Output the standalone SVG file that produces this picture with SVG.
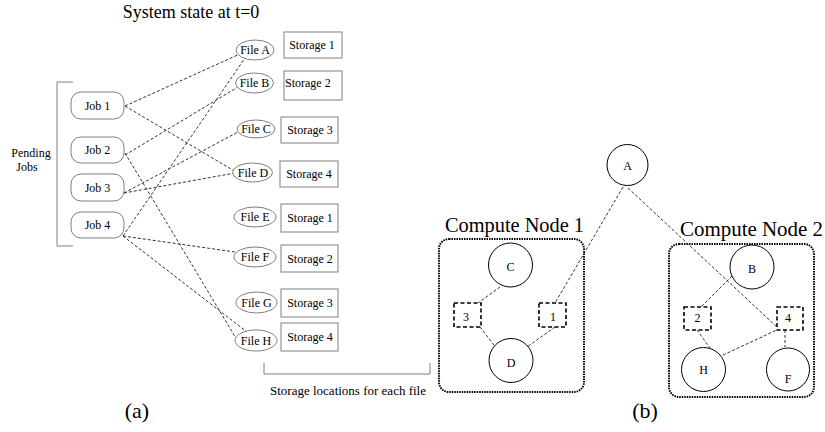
<svg xmlns="http://www.w3.org/2000/svg" width="825" height="432" viewBox="0 0 825 432">
<style>
text{font-family:"Liberation Serif","Times New Roman",serif;fill:#000}
.lbl{font-size:12px;text-anchor:middle}
.cap{font-size:13px;text-anchor:middle}
.big{font-size:20px}
.job{fill:#fff;stroke:#808080;stroke-width:1}
.file{fill:#fff;stroke:#808080;stroke-width:1}
.sto{fill:#fff;stroke:#808080;stroke-width:1}
.br{fill:none;stroke:#808080;stroke-width:1}
.dl{fill:none;stroke:#333;stroke-width:1;stroke-dasharray:3 2}
.circ{fill:#fff;stroke:#000;stroke-width:1}
.dbox{fill:#fff;stroke:#000;stroke-width:1.6;stroke-dasharray:4 2.5}
.cn{fill:none;stroke:#000;stroke-width:2;stroke-dasharray:1.5 1}
</style>

<text x="191" y="18" text-anchor="middle" style="font-size:18px">System state at t=0</text>

<g id="pending-bracket">
<path class="br" d="M73,82 H57 V246 H73"/>
<text class="lbl" x="31" y="157">Pending</text>
<text class="lbl" x="27" y="171">Jobs</text>
</g>

<g id="storage-bracket">
<path class="br" d="M264,363 V374 H430 V363"/>
<text class="cap" x="348" y="395">Storage locations for each file</text>
</g>

<g id="connectors-a">
<line class="dl" x1="125" y1="106" x2="242" y2="53"/>
<line class="dl" x1="125" y1="106" x2="236" y2="172"/>
<line class="dl" x1="125" y1="155" x2="238" y2="87"/>
<line class="dl" x1="125" y1="153" x2="237" y2="340"/>
<line class="dl" x1="124" y1="193" x2="238" y2="132"/>
<line class="dl" x1="124" y1="193" x2="235" y2="173"/>
<line class="dl" x1="123" y1="236" x2="245" y2="58"/>
<line class="dl" x1="123" y1="236" x2="235" y2="252"/>
<line class="dl" x1="123" y1="236" x2="247" y2="332"/>
</g>

<g id="job1"><rect class="job" x="71" y="92" width="53" height="27" rx="10"/><text class="lbl" x="97.5" y="110">Job 1</text></g>
<g id="job2"><rect class="job" x="71" y="137" width="53" height="26" rx="10"/><text class="lbl" x="97.5" y="154">Job 2</text></g>
<g id="job3"><rect class="job" x="71" y="174" width="53" height="27" rx="10"/><text class="lbl" x="97.5" y="192">Job 3</text></g>
<g id="job4"><rect class="job" x="71" y="212" width="53" height="26" rx="10"/><text class="lbl" x="97.5" y="229">Job 4</text></g>

<g id="fileA"><ellipse class="file" cx="255" cy="50" rx="19" ry="10"/><text class="lbl" x="255" y="54">File A</text></g>
<g id="fileB"><ellipse class="file" cx="254.5" cy="83" rx="19" ry="10"/><text class="lbl" x="254.5" y="87">File B</text></g>
<g id="fileC"><ellipse class="file" cx="256" cy="129" rx="19" ry="9"/><text class="lbl" x="256" y="133">File C</text></g>
<g id="fileD"><ellipse class="file" cx="252.5" cy="172.5" rx="20" ry="9.5"/><text class="lbl" x="253" y="177">File D</text></g>
<g id="fileE"><ellipse class="file" cx="255" cy="217" rx="21" ry="10"/><text class="lbl" x="255" y="221">File E</text></g>
<g id="fileF"><ellipse class="file" cx="255" cy="257" rx="21" ry="10"/><text class="lbl" x="255" y="261">File F</text></g>
<g id="fileG"><ellipse class="file" cx="256.5" cy="302.5" rx="20.5" ry="10.5"/><text class="lbl" x="256.5" y="306.5">File G</text></g>
<g id="fileH"><ellipse class="file" cx="256" cy="340.5" rx="21" ry="10.5"/><text class="lbl" x="256" y="344.5">File H</text></g>

<g id="stoA"><rect class="sto" x="284" y="32" width="58" height="26"/><text class="lbl" x="312" y="49">Storage 1</text></g>
<g id="stoB"><rect class="sto" x="284" y="71" width="58" height="29"/><text class="lbl" x="285" y="87" style="text-anchor:start">Storage 2</text></g>
<g id="stoC"><rect class="sto" x="281" y="117" width="57" height="26"/><text class="lbl" x="310" y="134">Storage 3</text></g>
<g id="stoD"><rect class="sto" x="280" y="161" width="58" height="26"/><text class="lbl" x="309" y="178">Storage 4</text></g>
<g id="stoE"><rect class="sto" x="281" y="204" width="57" height="28"/><text class="lbl" x="310" y="222">Storage 1</text></g>
<g id="stoF"><rect class="sto" x="281" y="245" width="57" height="27"/><text class="lbl" x="310" y="263">Storage 2</text></g>
<g id="stoG"><rect class="sto" x="281" y="289" width="57" height="28"/><text class="lbl" x="310" y="307">Storage 3</text></g>
<g id="stoH"><rect class="sto" x="281" y="323" width="57" height="28"/><text class="lbl" x="310" y="341">Storage 4</text></g>

<text x="137" y="418" text-anchor="middle" style="font-size:22px">(a)</text>
<text x="645" y="418" text-anchor="middle" style="font-size:22px">(b)</text>

<g id="compute-node-1">
<rect class="cn" x="439" y="239" width="145" height="153" rx="10"/>
<text class="big" x="445" y="232" textLength="139" lengthAdjust="spacingAndGlyphs">Compute Node 1</text>
</g>
<g id="compute-node-2">
<rect class="cn" x="669" y="244" width="145" height="153" rx="10"/>
<text class="big" x="680" y="236" textLength="143" lengthAdjust="spacingAndGlyphs">Compute Node 2</text>
</g>

<g id="connectors-b">
<line class="dl" x1="623" y1="187" x2="555" y2="303"/>
<line class="dl" x1="500" y1="287" x2="478" y2="303"/>
<line class="dl" x1="480" y1="327" x2="497" y2="349"/>
<line class="dl" x1="555" y1="327" x2="527" y2="347"/>
<line class="dl" x1="628" y1="188" x2="779" y2="329"/>
<line class="dl" x1="732" y1="276" x2="701" y2="307"/>
<line class="dl" x1="697" y1="330" x2="710" y2="348"/>
<line class="dl" x1="723" y1="355" x2="779" y2="329"/>
<line class="dl" x1="785" y1="330" x2="785" y2="347"/>
</g>

<g id="nodeA"><circle class="circ" cx="627.5" cy="165" r="20.5"/><text class="lbl" x="627.5" y="170">A</text></g>
<g id="nodeC"><circle class="circ" cx="510.5" cy="265" r="22"/><text class="lbl" x="510.5" y="271">C</text></g>
<g id="nodeD"><circle class="circ" cx="511" cy="360.5" r="22"/><text class="lbl" x="511" y="367">D</text></g>
<g id="box3"><rect class="dbox" x="454" y="303" width="27" height="24"/><text class="lbl" x="466" y="321">3</text></g>
<g id="box1"><rect class="dbox" x="539" y="303" width="27" height="24"/><text class="lbl" x="553" y="321">1</text></g>

<g id="nodeB"><circle class="circ" cx="752" cy="267" r="22"/><text class="lbl" x="752" y="273">B</text></g>
<g id="nodeH"><circle class="circ" cx="703.5" cy="369.5" r="22"/><text class="lbl" x="703.5" y="374">H</text></g>
<g id="nodeF"><circle class="circ" cx="788" cy="369.5" r="21.5"/><text class="lbl" x="788" y="383">F</text></g>
<g id="box2"><rect class="dbox" x="684" y="307" width="27" height="23"/><text class="lbl" x="697.5" y="322">2</text></g>
<g id="box4"><rect class="dbox" x="777" y="307" width="26" height="23"/><text class="lbl" x="788" y="322">4</text></g>
</svg>
